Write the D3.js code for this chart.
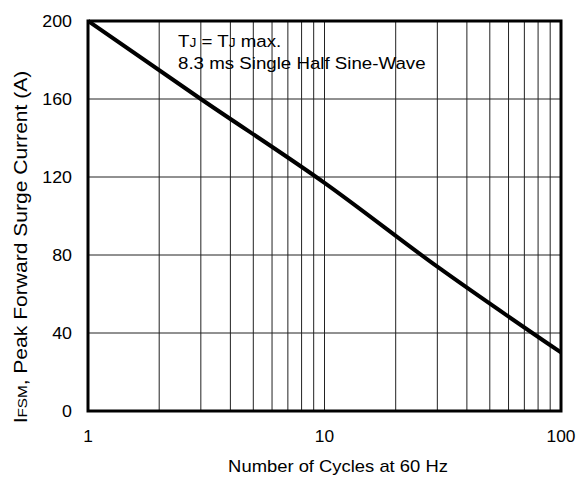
<!DOCTYPE html>
<html>
<head>
<meta charset="utf-8">
<script src="https://cdn.jsdelivr.net/npm/d3@7"></script>
<style>
  body { margin: 0; background: #fff; }
  text { font-family: "Liberation Sans", Arial, sans-serif; fill: #000; }
</style>
</head>
<body>
<div id="chart"></div>
<script>
const cycles = [1, 3, 10, 30, 100];
const current = [200, 160, 117, 74, 30];
const yTicks = [0, 40, 80, 120, 160, 200];
const xTicks = [1, 10, 100];
const xGrid = [2, 3, 4, 5, 6, 7, 8, 9, 10, 20, 30, 40, 50, 60, 70, 80, 90];

const W = 577, H = 477;
const margin = { top: 21, right: 16, bottom: 66, left: 88 };
const width = W - margin.left - margin.right;
const height = H - margin.top - margin.bottom;

const svg = d3.select("#chart").append("svg")
  .attr("width", W).attr("height", H);
const g = svg.append("g").attr("transform", `translate(${margin.left},${margin.top})`);

const x = d3.scaleLog().domain([1, 100]).range([0, width]);
const y = d3.scaleLinear().domain([0, 200]).range([height, 0]);

// the source font is a bit wider than Arial, so stretch text sideways
function label(parent, px, py, size, sx, anchor, rot) {
  return parent.append("g")
    .attr("transform", `translate(${px},${py})${rot ? " rotate(" + rot + ")" : ""} scale(${sx},1)`)
    .append("text")
    .attr("text-anchor", anchor)
    .style("font-size", size + "px");
}

// grid
g.selectAll(".vgrid").data(xGrid).enter().append("line")
  .attr("x1", d => x(d)).attr("x2", d => x(d))
  .attr("y1", 0).attr("y2", height)
  .attr("stroke", "#222").attr("stroke-width", 1);
g.selectAll(".hgrid").data(yTicks.slice(1, -1)).enter().append("line")
  .attr("x1", 0).attr("x2", width)
  .attr("y1", d => y(d)).attr("y2", d => y(d))
  .attr("stroke", "#222").attr("stroke-width", 1);

// tick labels
yTicks.forEach(d => label(g, -16, y(d) + 6, 16.5, 1.08, "end").text(d));
xTicks.forEach(d => label(g, x(d), height + 31, 16.5, 1.05, "middle").text(d));

// curve
const line = d3.line().x((d, i) => x(cycles[i])).y(d => y(d)).curve(d3.curveMonotoneX);
g.append("path").datum(current)
  .attr("d", line)
  .attr("fill", "none").attr("stroke", "#000").attr("stroke-width", 4);

// frame
g.append("rect").attr("width", width).attr("height", height)
  .attr("fill", "none").attr("stroke", "#000").attr("stroke-width", 3);

// note
const note = label(g, 90, 26, 17, 1.1, "start");
note.append("tspan").text("T");
note.append("tspan").style("font-size", "12.5px").text("J");
note.append("tspan").text(" = T");
note.append("tspan").style("font-size", "12.5px").text("J");
note.append("tspan").text(" max.");
label(g, 90, 48, 17, 1.1, "start").text("8.3 ms Single Half Sine-Wave");

// axis titles
label(svg, 338, 472, 16, 1.15, "middle").text("Number of Cycles at 60 Hz");

const yl = label(svg, 27, 247, 18, 1.17, "middle", -90);
yl.append("tspan").text("I");
yl.append("tspan").style("font-size", "13px").text("FSM");
yl.append("tspan").text(", Peak Forward Surge Current  (A)");
</script>
</body>
</html>
